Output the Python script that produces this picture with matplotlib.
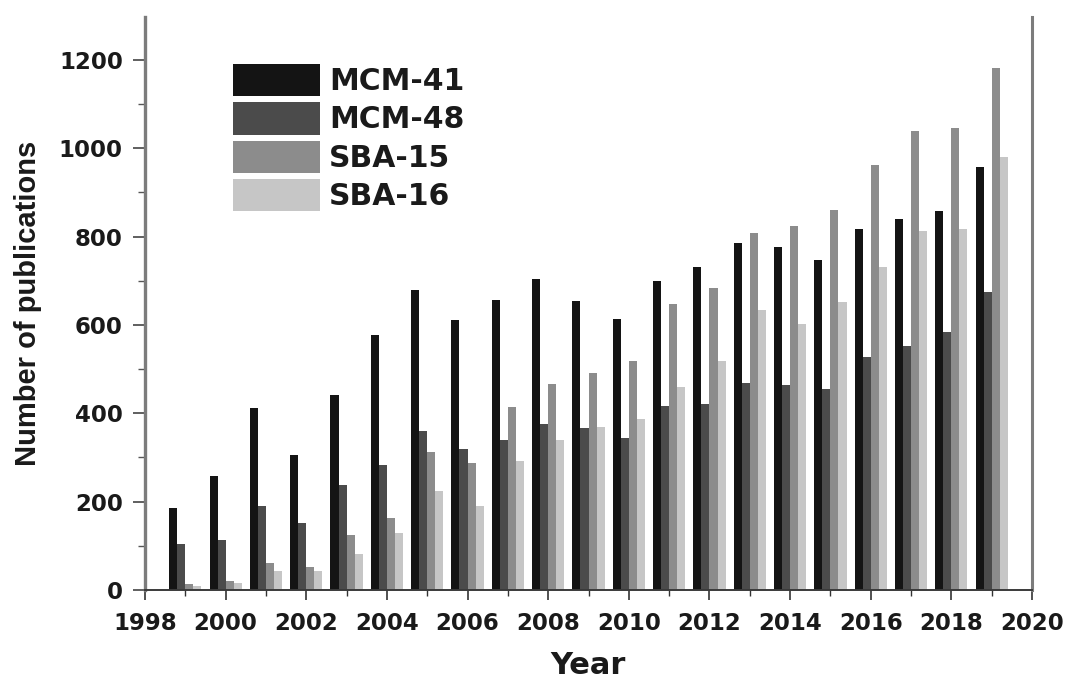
import matplotlib
matplotlib.use("Agg")
import matplotlib.pyplot as plt
from matplotlib.ticker import MultipleLocator
import numpy as np

years = [1999, 2000, 2001, 2002, 2003, 2004, 2005, 2006, 2007, 2008, 2009,
         2010, 2011, 2012, 2013, 2014, 2015, 2016, 2017, 2018, 2019]
mcm41 = [186, 257, 412, 305, 442, 578, 678, 612, 657, 704, 653,
         614, 700, 732, 786, 777, 746, 817, 839, 858, 958]
mcm48 = [105, 113, 190, 151, 238, 283, 360, 319, 340, 375, 367,
         344, 417, 422, 468, 464, 454, 528, 552, 585, 674]
sba15 = [14, 20, 62, 52, 124, 163, 312, 287, 414, 466, 492,
         518, 648, 683, 808, 824, 861, 961, 1038, 1045, 1181]
sba16 = [9, 15, 42, 43, 82, 130, 224, 190, 293, 340, 368,
         388, 459, 518, 633, 603, 651, 730, 813, 817, 981]

series_names = ["MCM-41", "MCM-48", "SBA-15", "SBA-16"]
series_values = [mcm41, mcm48, sba15, sba16]
series_colors = ["#141414", "#4b4b4b", "#8c8c8c", "#c6c6c6"]

x_ticks = [1998, 2000, 2002, 2004, 2006, 2008, 2010, 2012, 2014, 2016, 2018, 2020]
y_ticks = [0, 200, 400, 600, 800, 1000, 1200]

label_font = "DejaVu Sans"
ylabel_font = "Liberation Sans"

fig = plt.figure(figsize=(10.67, 6.79), dpi=100)
ax = fig.add_axes([0.1359, 0.1311, 0.8313, 0.8439])

bar_w = 0.2
offsets = [-0.3, -0.1, 0.1, 0.3]
x = np.array(years, dtype=float)
for name, vals, col, off in zip(series_names, series_values, series_colors, offsets):
    ax.bar(x + off, vals, width=bar_w, color=col, linewidth=0, label=name)

ax.set_xlim(1998, 2020)
ax.set_ylim(0, 1297)
ax.set_xticks(x_ticks)
ax.set_yticks(y_ticks)
ax.xaxis.set_minor_locator(MultipleLocator(1))
ax.yaxis.set_minor_locator(MultipleLocator(100))

ax.tick_params(axis="x", which="major", direction="out", length=7.5, width=1.2,
               color="#333333", pad=8)
ax.tick_params(axis="x", which="minor", direction="out", length=4, width=1.0,
               color="#333333")
ax.tick_params(axis="y", which="major", direction="out", length=9, width=1.2,
               color="#444444", pad=7)
ax.tick_params(axis="y", which="minor", direction="out", length=5, width=1.0,
               color="#555555")

for lab in ax.get_xticklabels() + ax.get_yticklabels():
    lab.set_fontfamily(label_font)
    lab.set_fontweight("bold")
    lab.set_fontsize(16.5)
    lab.set_color("#1a1a1a")

ax.spines["top"].set_visible(False)
ax.spines["left"].set_color("#7c7c7c")
ax.spines["left"].set_linewidth(2.4)
ax.spines["right"].set_color("#7c7c7c")
ax.spines["right"].set_linewidth(2.2)
ax.spines["bottom"].set_color("#3a3a3a")
ax.spines["bottom"].set_linewidth(1.4)

ax.set_xlabel("Year", fontfamily=label_font, fontweight="bold", fontsize=22,
              color="#1a1a1a", labelpad=12)
ax.set_ylabel("Number of publications", fontfamily=ylabel_font, fontweight="bold",
              fontsize=21, color="#1a1a1a", labelpad=12)

leg = ax.legend(loc="upper left", bbox_to_anchor=(0.0992, 0.918), frameon=False,
                borderpad=0, borderaxespad=0, handlelength=2.9, handleheight=1.29,
                handletextpad=0.32, labelspacing=0.2,
                prop={"family": label_font, "weight": "bold", "size": 21.5})
for t in leg.get_texts():
    t.set_color("#1a1a1a")

fig.savefig("out.png", dpi=100)
